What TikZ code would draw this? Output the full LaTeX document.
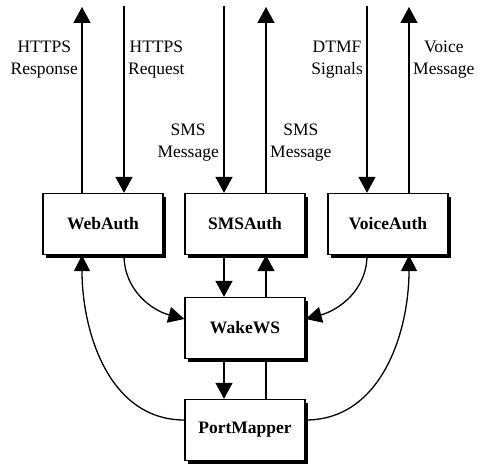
\documentclass[tikz,border=0pt]{standalone}
\usepackage{fontspec}
\setmainfont{Liberation Serif}
\usetikzlibrary{arrows.meta,shadows,backgrounds}

\begin{document}
\begin{tikzpicture}[x=1pt,y=-1pt,
  box/.style={draw,fill=white,line width=1.3pt,minimum width=120pt,minimum height=61pt,
    font=\fontsize{17.5}{20}\selectfont\bfseries,
    drop shadow={shadow xshift=3pt,shadow yshift=-3pt,fill=black,opacity=1}},
  lbl/.style={inner sep=0pt,align=center,font=\fontsize{17.5}{22}\selectfont},
  flow/.style={line width=1.3pt,-{Triangle[width=17pt,length=16pt]}},
  curvedflow/.style={line width=1.3pt,-{Triangle[width=16pt,length=16pt]}}]
\useasboundingbox (0,0) rectangle (484,465);

\node[box] (web) at (103,224) {WebAuth};
\node[box] (sms) at (245,224) {SMSAuth};
\node[box] (voice) at (388,224) {VoiceAuth};
\node[box] (wake) at (245,328) {WakeWS};
\node[box] (pm) at (245,430) {PortMapper};

\coordinate (webOut) at (82,7);
\coordinate (webIn) at (124,6);
\coordinate (smsIn) at (224,6);
\coordinate (smsOut) at (266,7);
\coordinate (voiceIn) at (367,6);
\coordinate (voiceOut) at (409,7);

\draw[flow] ([xshift=-21pt]web.north) -- (webOut);
\draw[flow] (webIn) -- ([xshift=21pt]web.north);
\draw[flow] (smsIn) -- ([xshift=-21pt]sms.north);
\draw[flow] ([xshift=21pt]sms.north) -- (smsOut);
\draw[flow] (voiceIn) -- ([xshift=-21pt]voice.north);
\draw[flow] ([xshift=21pt]voice.north) -- (voiceOut);

\node[lbl,anchor=east] (httpsResp) at (78,60) {HTTPS\\Response};
\node[lbl,anchor=west] (httpsReq) at (128,60) {HTTPS\\Request};
\node[lbl,anchor=east] (smsMsgIn) at (219,143) {SMS\\Message};
\node[lbl,anchor=west] (smsMsgOut) at (270,143) {SMS\\Message};
\node[lbl,anchor=east] (dtmf) at (363,60) {DTMF\\Signals};
\node[lbl,anchor=west] (voiceMsg) at (413,60) {Voice\\Message};

\draw[flow] ([xshift=-21pt]sms.south) -- ([xshift=-21pt]wake.north);
\draw[flow] ([xshift=-21pt]wake.south) -- ([xshift=-21pt]pm.north);
\begin{scope}[on background layer]
\draw[flow] ([xshift=21pt]pm.north) -- ([xshift=21pt]sms.south);
\end{scope}

\draw[curvedflow] ([xshift=21pt]web.south) to[out=-90,in=165] ([yshift=9pt]wake.west);
\draw[curvedflow] ([xshift=-21pt]voice.south) to[out=-90,in=15] ([yshift=9pt]wake.east);
\draw[curvedflow] ([yshift=10pt]pm.west) to[out=180,in=-90] ([xshift=-21pt]web.south);
\draw[curvedflow] ([yshift=10pt]pm.east) to[out=0,in=-90] ([xshift=21pt]voice.south);
\end{tikzpicture}
\end{document}
